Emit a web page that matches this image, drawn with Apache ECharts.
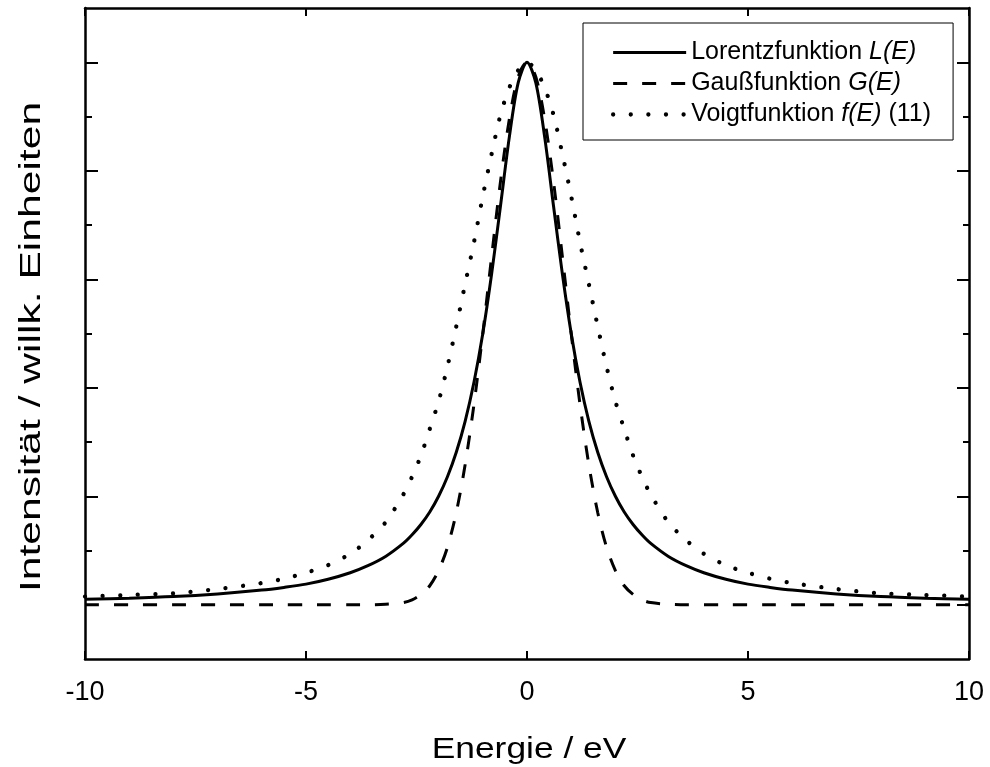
<!DOCTYPE html>
<html>
<head>
<meta charset="utf-8">
<script src="https://cdn.jsdelivr.net/npm/echarts@6/dist/echarts.min.js"></script>
<style>
html,body{margin:0;padding:0;background:#fff;}
#chart{width:990px;height:767px;}
</style>
</head>
<body>
<div id="chart"></div>
<script>
// Energy grid (eV)
var energy = [-10,-9,-8,-7,-6,-5.5,-5,-4.5,-4,-3.6,-3.2,-2.8,-2.6,-2.4,-2.2,-2,-1.8,-1.6,-1.4,-1.2,-1,-0.8,-0.6,-0.4,-0.2,0,
              0.2,0.4,0.6,0.8,1,1.2,1.4,1.6,1.8,2,2.2,2.4,2.6,2.8,3.2,3.6,4,4.5,5,5.5,6,7,8,9,10];
// Lorentzfunktion L(E)
var lorentz = [0.010,0.012,0.015,0.020,0.027,0.032,0.038,0.047,0.059,0.072,0.089,0.113,0.129,0.148,0.171,0.200,0.236,0.281,0.338,0.410,0.500,0.610,0.735,0.862,0.962,1.000,
               0.962,0.862,0.735,0.610,0.500,0.410,0.338,0.281,0.236,0.200,0.171,0.148,0.129,0.113,0.089,0.072,0.059,0.047,0.038,0.032,0.027,0.020,0.015,0.012,0.010];
// Gaußfunktion G(E)
var gauss = [0,0,0,0,0,0,0,0,0,0,0.001,0.004,0.009,0.019,0.035,0.063,0.106,0.170,0.258,0.369,0.500,0.642,0.780,0.895,0.973,1.000,
             0.973,0.895,0.780,0.642,0.500,0.369,0.258,0.170,0.106,0.063,0.035,0.019,0.009,0.004,0.001,0,0,0,0,0,0,0,0,0,0];
// Voigtfunktion f(E)
var voigt = [0.015,0.018,0.021,0.029,0.040,0.048,0.059,0.073,0.094,0.119,0.152,0.203,0.236,0.275,0.324,0.375,0.439,0.513,0.591,0.668,0.753,0.831,0.903,0.953,0.985,1.000,
             0.985,0.953,0.903,0.831,0.753,0.668,0.591,0.513,0.439,0.375,0.324,0.275,0.236,0.203,0.152,0.119,0.094,0.073,0.059,0.048,0.040,0.029,0.021,0.018,0.015];

var seriesNames = ['Lorentzfunktion L(E)', 'Gaußfunktion G(E)', 'Voigtfunktion f(E) (11)'];
var legendRich = ['Lorentzfunktion {i|L(E)}', 'Gaußfunktion {i|G(E)}', 'Voigtfunktion {i|f(E)} (11)'];
var xTitle = 'Energie / eV';
var yTitle = 'Intensität / willk. Einheiten';
var xTicks = [-10, -5, 0, 5, 10];
var yMajorTicks = [0, 0.2, 0.4, 0.6, 0.8, 1.0];
var yMinorTicks = [0.1, 0.3, 0.5, 0.7, 0.9];

function pairs(ys) { return energy.map(function (e, i) { return [e, ys[i]]; }); }

var FONT = "'Liberation Sans', Arial, sans-serif";
var chart = echarts.init(document.getElementById('chart'), null, {renderer: 'canvas'});

function yAxisDef(pos, ticks, len, showLine) {
  return {
    type: 'value', position: pos, min: -0.1, max: 1.1,
    axisLine: {show: showLine, onZero: false, lineStyle: {color: '#000', width: 2.5}},
    axisTick: {show: true, inside: true, length: len, customValues: ticks, lineStyle: {color: '#000', width: 2}},
    axisLabel: {show: false},
    splitLine: {show: false}
  };
}

var styles = [
  {color: '#000', width: 3, type: 'solid'},
  {color: '#000', width: 3, type: [14, 15], cap: 'butt'},
  {color: '#000', width: 4.3, type: [0.01, 17.6], cap: 'round'}
];

var option = {
  backgroundColor: '#fff',
  animation: false,
  grid: {left: 85, right: 21, top: 8, bottom: 108, containLabel: false},
  legend: {
    orient: 'vertical', left: 583, top: 23,
    padding: [17, 22, 13, 28],
    itemWidth: 73, itemHeight: 24, itemGap: 6,
    borderColor: '#000', borderWidth: 1, backgroundColor: '#fff',
    selectedMode: false,
    itemStyle: {opacity: 0},
    data: seriesNames.map(function (n, i) {
      return {name: n, itemStyle: {opacity: 0, color: 'rgba(0,0,0,0)'}, lineStyle: styles[i]};
    }),
    formatter: function (n) { return legendRich[seriesNames.indexOf(n)]; },
    textStyle: {fontFamily: FONT, fontSize: 25, color: '#000', lineHeight: 24,
      rich: {i: {fontFamily: FONT, fontSize: 25, fontStyle: 'italic', color: '#000', lineHeight: 24}}}
  },
  xAxis: [
    {
      type: 'value', position: 'bottom', min: -10, max: 10, interval: 5,
      axisLine: {onZero: false, lineStyle: {color: '#000', width: 2.5}},
      axisTick: {inside: true, length: 8, customValues: xTicks, lineStyle: {color: '#000', width: 2}},
      axisLabel: {color: '#000', fontSize: 27, fontFamily: FONT, margin: 20, customValues: xTicks},
      splitLine: {show: false}
    },
    {
      type: 'value', position: 'top', min: -10, max: 10, interval: 5,
      axisLine: {onZero: false, lineStyle: {color: '#000', width: 2.5}},
      axisTick: {inside: true, length: 8, customValues: xTicks, lineStyle: {color: '#000', width: 2}},
      axisLabel: {show: false},
      splitLine: {show: false}
    }
  ],
  yAxis: [
    yAxisDef('left', yMajorTicks, 13, true),
    yAxisDef('left', yMinorTicks, 7, false),
    yAxisDef('right', yMajorTicks, 12, true),
    yAxisDef('right', yMinorTicks, 6, false)
  ],
  graphic: [
    {
      type: 'text', x: 529, y: 750, scaleX: 1.22, silent: true,
      style: {text: xTitle, font: '29px ' + FONT, fill: '#000', align: 'center', verticalAlign: 'middle'}
    },
    {
      type: 'text', x: 32, y: 347, rotation: Math.PI / 2, scaleX: 1.42, silent: true,
      style: {text: yTitle, font: '30px ' + FONT, fill: '#000', align: 'center', verticalAlign: 'middle'}
    }
  ],
  series: [
    {
      name: seriesNames[0], type: 'line', data: pairs(lorentz), smooth: 0.3,
      symbol: 'none', itemStyle: {color: '#000'}, lineStyle: styles[0]
    },
    {
      name: seriesNames[1], type: 'line', data: pairs(gauss), smooth: 0.3,
      symbol: 'none', itemStyle: {color: '#000'}, lineStyle: styles[1]
    },
    {
      name: seriesNames[2], type: 'line', data: pairs(voigt), smooth: 0.3,
      symbol: 'none', itemStyle: {color: '#000'}, lineStyle: styles[2]
    }
  ]
};
chart.setOption(option);
</script>
</body>
</html>
